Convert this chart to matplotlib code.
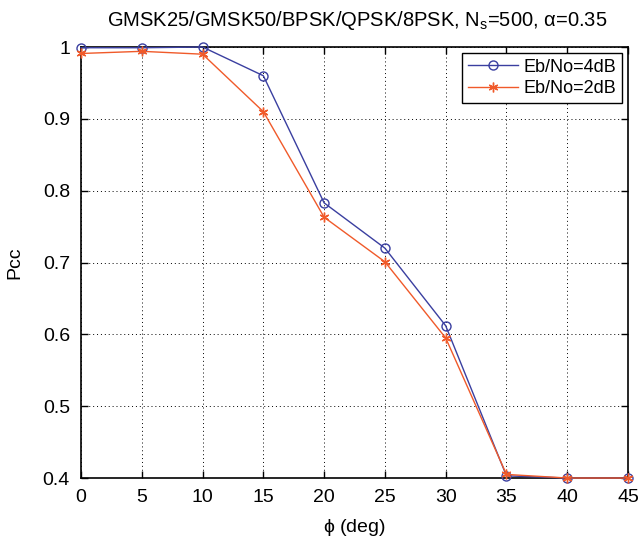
import matplotlib
matplotlib.use("Agg")
import matplotlib.pyplot as plt

# ─── Data ────────────────────────────────────────────────────────────────────
phi_deg = [0, 5, 10, 15, 20, 25, 30, 35, 40, 45]
pcc_4db = [0.999, 0.999, 1.0, 0.960, 0.783, 0.720, 0.612, 0.403, 0.400, 0.400]
pcc_2db = [0.991, 0.994, 0.990, 0.910, 0.763, 0.701, 0.595, 0.405, 0.400, 0.400]

BLUE = "#3a3fa0"
RED = "#f05a2a"

plt.rcParams["font.family"] = ["Liberation Sans", "DejaVu Sans"]
plt.rcParams["font.size"] = 14

fig = plt.figure(figsize=(6.39, 5.48), dpi=100)
ax = fig.add_axes([0.1268, 0.1277, 0.856, 0.7865])

ax.plot(phi_deg, pcc_4db, color=BLUE, linewidth=1.0, marker="o",
        markersize=6.5, markerfacecolor="none", markeredgecolor=BLUE,
        markeredgewidth=1.0, label="Eb/No=4dB", clip_on=False, zorder=3)
ax.plot(phi_deg, pcc_2db, color=RED, linewidth=1.0, marker=(6, 2, 0),
        markersize=7, markerfacecolor="none", markeredgecolor=RED,
        markeredgewidth=1.0, label="Eb/No=2dB", clip_on=False, zorder=3)

ax.set_xlim(0, 45)
ax.set_ylim(0.4, 1.0)
ax.set_xticks(range(0, 50, 5))
ax.set_yticks([0.4, 0.5, 0.6, 0.7, 0.8, 0.9, 1.0])
ax.set_yticklabels(["0.4", "0.5", "0.6", "0.7", "0.8", "0.9", "1"])
ax.tick_params(direction="in", top=True, right=True, length=5, width=1, pad=8)
ax.grid(True, linestyle=(0, (1, 3)), color="black", linewidth=0.7)
for sp in ax.spines.values():
    sp.set_linewidth(1.2)

ax.set_xlabel(r"$\mathregular{\phi}$ (deg)", labelpad=8)
ax.set_ylabel("Pcc", labelpad=14)
ax.set_title(r"GMSK25/GMSK50/BPSK/QPSK/8PSK, N$_\mathregular{s}$=500, $\mathregular{\alpha}$=0.35",
             fontsize=14.5, pad=15, x=0.505)

leg = ax.legend(loc="upper right", fancybox=False, framealpha=1,
                edgecolor="black", borderaxespad=0.35, handlelength=2.8,
                fontsize=13, borderpad=0.3, labelspacing=0.25,
                handletextpad=0.3)
leg.get_frame().set_linewidth(1.0)

fig.savefig("out.png", dpi=100)
